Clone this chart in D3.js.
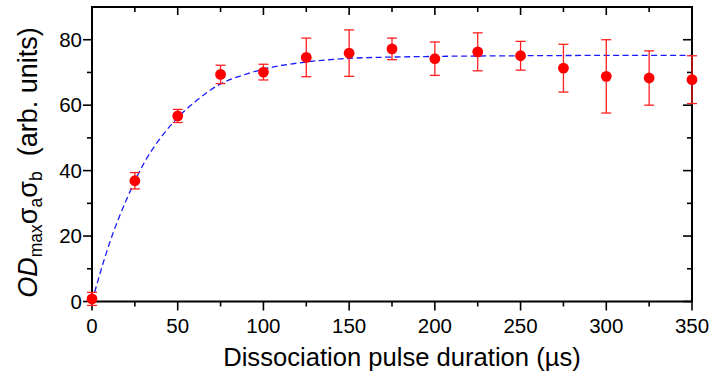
<!DOCTYPE html>
<html>
<head>
<meta charset="utf-8">
<script src="https://cdn.jsdelivr.net/npm/d3@7"></script>
<style>
  html, body { margin: 0; padding: 0; background: #fff; }
  svg { display: block; font-family: "Liberation Sans", Arial, sans-serif; }
</style>
</head>
<body>
<div id="viz"></div>
<script>
// durations (µs) and measured values with error bars
const durations = [0, 25, 50, 75, 100, 125, 150, 175, 200, 225, 250, 275, 300, 325, 350];
const values    = [0.8, 36.9, 56.7, 69.4, 70.1, 74.6, 75.9, 77.2, 74.2, 76.3, 75.1, 71.3, 68.8, 68.3, 67.8];
const errors    = [2.0, 2.5, 2.0, 2.8, 2.4, 5.9, 7.1, 3.3, 5.1, 5.8, 4.4, 7.3, 11.2, 8.3, 7.3];

// fitted curve
const fitT = [0, 10, 20, 30, 40, 50, 60, 75, 90, 100, 125, 150, 175, 200, 250, 300, 350];
const fitV = [0, 17.5, 31, 42, 50, 56.2, 61, 66.5, 69.5, 71, 73.2, 74.3, 74.7, 74.9, 75.1, 75.2, 75.2];

const xMajor = [0, 50, 100, 150, 200, 250, 300, 350];
const xMinor = [25, 75, 125, 175, 225, 275, 325];
const yMajor = [0, 20, 40, 60, 80];
const yMinor = [10, 30, 50, 70];

(function () {
  const W = 709, H = 375;
  const pL = 92, pR = 692, pT = 7, pB = 301.5;

  const svg = d3.select("#viz").append("svg")
    .attr("width", W).attr("height", H);

  const x = d3.scaleLinear().domain([0, 350]).range([pL, pR]);
  const y = d3.scaleLinear().domain([0, 90]).range([pB, pT]);

  // frame
  svg.append("rect")
    .attr("x", pL).attr("y", pT)
    .attr("width", pR - pL).attr("height", pB - pT)
    .attr("fill", "none").attr("stroke", "#000").attr("stroke-width", 2);

  // ticks: bottom/left point outward, top/right inward
  const tk = svg.append("g").attr("stroke", "#000").attr("stroke-width", 1.6);
  xMajor.forEach(v => {
    tk.append("line").attr("x1", x(v)).attr("x2", x(v)).attr("y1", pB).attr("y2", pB + 9);
    tk.append("line").attr("x1", x(v)).attr("x2", x(v)).attr("y1", pT).attr("y2", pT + 8);
  });
  xMinor.forEach(v => {
    tk.append("line").attr("x1", x(v)).attr("x2", x(v)).attr("y1", pB).attr("y2", pB + 5);
    tk.append("line").attr("x1", x(v)).attr("x2", x(v)).attr("y1", pT).attr("y2", pT + 5);
  });
  yMajor.forEach(v => {
    tk.append("line").attr("x1", pL - 9).attr("x2", pL).attr("y1", y(v)).attr("y2", y(v));
    tk.append("line").attr("x1", pR - 9).attr("x2", pR).attr("y1", y(v)).attr("y2", y(v));
  });
  yMinor.forEach(v => {
    tk.append("line").attr("x1", pL - 5).attr("x2", pL).attr("y1", y(v)).attr("y2", y(v));
    tk.append("line").attr("x1", pR - 5).attr("x2", pR).attr("y1", y(v)).attr("y2", y(v));
  });

  // tick labels
  svg.append("g").selectAll("text").data(xMajor).join("text")
    .attr("x", d => x(d)).attr("y", 333)
    .attr("text-anchor", "middle").attr("font-size", 20.5)
    .text(d => d);
  svg.append("g").selectAll("text").data(yMajor).join("text")
    .attr("x", 82).attr("y", d => y(d))
    .attr("dy", "0.35em")
    .attr("text-anchor", "end").attr("font-size", 20.5)
    .text(d => d);

  // axis titles
  svg.append("text")
    .attr("x", 402).attr("y", 366)
    .attr("text-anchor", "middle").attr("font-size", 25.6)
    .text("Dissociation pulse duration (µs)");

  const yt = svg.append("text")
    .attr("transform", "translate(37,162.5) rotate(-90)")
    .attr("text-anchor", "middle").attr("font-size", 27);
  yt.append("tspan").attr("font-style", "italic").text("OD");
  yt.append("tspan").attr("font-size", 17.5).attr("dy", 5).text("max");
  yt.append("tspan").attr("dy", -5).text("σ");
  yt.append("tspan").attr("font-size", 17.5).attr("dy", 5).text("a");
  yt.append("tspan").attr("dy", -5).text("σ");
  yt.append("tspan").attr("font-size", 17.5).attr("dy", 5).text("b");
  yt.append("tspan").attr("dy", -5).attr("xml:space", "preserve").text("  (arb. units)");

  // fit curve
  const fit = fitT.map((t, i) => ({ t, v: fitV[i] }));
  svg.append("path")
    .datum(fit)
    .attr("fill", "none")
    .attr("stroke", "#1a1aff")
    .attr("stroke-width", 1.3)
    .attr("stroke-dasharray", "6 3.5")
    .attr("d", d3.line().x(d => x(d.t)).y(d => y(d.v)).curve(d3.curveMonotoneX));

  // error bars and points
  const pts = durations.map((t, i) => ({ t, v: values[i], e: errors[i] }));
  const eb = svg.append("g").attr("stroke", "#ff2020").attr("stroke-width", 1.3);
  pts.forEach(d => {
    eb.append("line").attr("x1", x(d.t)).attr("x2", x(d.t)).attr("y1", y(d.v - d.e)).attr("y2", y(d.v + d.e));
    eb.append("line").attr("x1", x(d.t) - 5).attr("x2", x(d.t) + 5).attr("y1", y(d.v - d.e)).attr("y2", y(d.v - d.e));
    eb.append("line").attr("x1", x(d.t) - 5).attr("x2", x(d.t) + 5).attr("y1", y(d.v + d.e)).attr("y2", y(d.v + d.e));
  });
  svg.append("g").selectAll("circle").data(pts).join("circle")
    .attr("cx", d => x(d.t)).attr("cy", d => y(d.v))
    .attr("r", 5.4).attr("fill", "#ff0000");
})();
</script>
</body>
</html>
